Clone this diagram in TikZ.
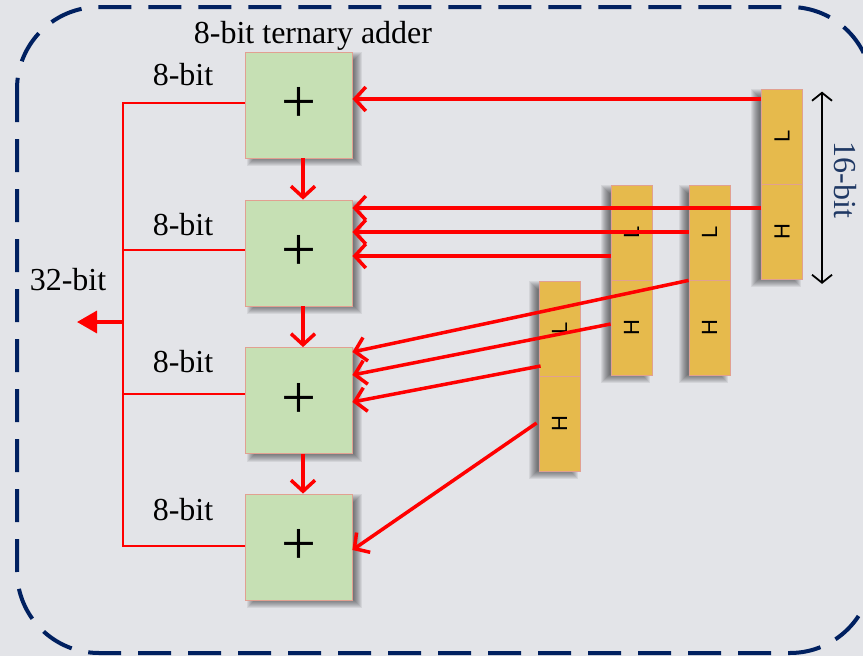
\documentclass[tikz,border=0pt]{standalone}
\usepackage{fontspec}
\setmainfont{Liberation Serif}
\newfontfamily\lhfont{Liberation Sans}
\usetikzlibrary{arrows.meta}

\definecolor{bgray}{RGB}{227,228,232}
\definecolor{navy}{RGB}{0,32,96}
\definecolor{addgreen}{RGB}{198,224,180}
\definecolor{bitgold}{RGB}{230,186,76}
\definecolor{edgepink}{RGB}{225,160,145}
\definecolor{labelblue}{RGB}{31,56,100}

\pgfdeclarelayer{back}
\pgfdeclarelayer{under}
\pgfsetlayers{back,under,main}

% soft drop shadow behind the box spanned by #1.north west and #2.south east,
% offset by (#3,#4) with y growing downwards
\newcommand{\softshade}[4]{%
  \foreach \r in {0,1,...,8}{%
    \pgfmathsetmacro\shlx{#3+4-\r}%
    \pgfmathsetmacro\shly{#4+4-\r}%
    \pgfmathsetmacro\shrx{#3-4+\r}%
    \pgfmathsetmacro\shry{#4-4+\r}%
    \fill[black,opacity=0.065]
      ([shift={(\shlx,\shly)}]#1.north west) rectangle
      ([shift={(\shrx,\shry)}]#2.south east);
  }%
}

\begin{document}
\begin{tikzpicture}[x=1pt,y=-1pt,
  adder/.style={draw=edgepink, line width=0.8pt, fill=addgreen,
    minimum width=107pt, minimum height=106pt, inner sep=0pt,
    font=\fontsize{62}{62}\selectfont},
  cell/.style={draw=edgepink, line width=0.8pt, fill=bitgold,
    minimum width=41pt, minimum height=95pt, inner sep=0pt,
    font=\lhfont\fontsize{22}{22}\selectfont},
  lbl/.style={anchor=base, inner sep=0pt, font=\fontsize{32}{38}\selectfont},
  arr/.style={draw=red, line width=3.5pt,
    arrows={-Straight Barb[length=11pt,width=24pt]}},
  bus/.style={draw=red, line width=2pt},
  outarr/.style={draw=red, line width=3.5pt,
    arrows={-Triangle[length=20pt,width=22pt]}},
  dim/.style={draw=black, line width=1.8pt,
    arrows={Straight Barb[length=8pt,width=20pt]-Straight Barb[length=8pt,width=20pt]}}
]

% page and background
\useasboundingbox (0,0) rectangle (863,656);
\begin{pgfonlayer}{back}
  \fill[bgray] (0,0) rectangle (863,656);
\end{pgfonlayer}

% dashed enclosure
\draw[navy, line width=4pt, dash pattern=on 33pt off 17pt, rounded corners=82pt]
  (17,7) rectangle (872,653);

% the four 8-bit adders
\node[adder] (a1) at (298.5,105)   {+};
\node[adder] (a2) at (298.5,253)   {+};
\node[adder] (a3) at (298.5,400.5) {+};
\node[adder] (a4) at (298.5,547)   {+};

% 16-bit operands, each split into a low and a high byte
\node[cell] (AL) at (782,136.5)   {\rotatebox{90}{L}};
\node[cell] (AH) at (782,231.5)   {\rotatebox{90}{H}};
\node[cell] (CL) at (709.5,232.5) {\rotatebox{90}{L}};
\node[cell] (CH) at (709.5,327.5) {\rotatebox{90}{H}};
\node[cell] (BL) at (631.5,232.5) {\rotatebox{90}{L}};
\node[cell] (BH) at (631.5,327.5) {\rotatebox{90}{H}};
\node[cell] (DL) at (559.5,328.5) {\rotatebox{90}{L}};
\node[cell] (DH) at (559.5,423.5) {\rotatebox{90}{H}};

% shadows
\begin{pgfonlayer}{under}
  \softshade{a1}{a1}{6}{4}
  \softshade{a2}{a2}{6}{4}
  \softshade{a3}{a3}{6}{4}
  \softshade{a4}{a4}{6}{4}
  \softshade{AL}{AH}{-6}{4}
  \softshade{CL}{CH}{-6}{4}
  \softshade{BL}{BH}{-6}{4}
  \softshade{DL}{DH}{-6}{4}
\end{pgfonlayer}

% labels
\node[lbl] (title) at (313,43)  {8-bit ternary adder};
\node[lbl] (w1)    at (183,85)  {8-bit};
\node[lbl] (w2)    at (183,235) {8-bit};
\node[lbl] (w3)    at (183,372) {8-bit};
\node[lbl] (w4)    at (183,520) {8-bit};
\node[lbl] (w32)   at (68,290)  {32-bit};
\node[inner sep=0pt, rotate=-90, text=labelblue,
      font=\fontsize{32}{38}\selectfont] (w16) at (845,180) {16-bit};

% operand bytes into the adders
\draw[arr] ([yshift=37.5pt]AL.west) -- ([yshift=6pt]a1.east);
\draw[arr] ([yshift=23.5pt]AH.west) -- ([yshift=45pt]a2.east);
\draw[arr] ([yshift=0.5pt]CL.west) -- ([yshift=21pt]a2.east);
\draw[arr] ([yshift=-23.5pt]BL.west) -- ([yshift=-3pt]a2.east);
\draw[arr] (CL.south west) -- ([yshift=48.5pt]a3.east);
\draw[arr] ([yshift=3.5pt]BH.west) -- ([yshift=25.5pt]a3.east);
\draw[arr] ([xshift=2pt,yshift=-37.5pt]DL.west) -- ([yshift=-1.5pt]a3.east);
\draw[arr] ([xshift=-2pt,yshift=0.5pt]DH.west) -- ([yshift=-3pt]a4.east);

% carries between adders
\draw[arr] ([xshift=4.5pt]a1.south) -- ([xshift=4.5pt]a2.north);
\draw[arr] ([xshift=4.5pt]a2.south) -- ([xshift=4.5pt]a3.north);
\draw[arr] ([xshift=4.5pt]a3.south) -- ([xshift=4.5pt]a4.north);

% result bus
\coordinate (bus) at (123,322);
\coordinate (out) at (77,322);
\coordinate (j1) at ([yshift=2pt]a1.west);
\coordinate (j2) at ([yshift=3pt]a2.west);
\coordinate (j3) at ([yshift=6.5pt]a3.west);
\coordinate (j4) at ([yshift=1pt]a4.west);
\draw[bus] (j1) -| (bus) |- (j4);
\draw[bus] (j2) -- (j2 -| bus);
\draw[bus] (j3) -- (j3 -| bus);
\draw[outarr] (bus) -- (out);

% operand width marker
\draw[dim] ([xshift=40pt,yshift=-3pt]AL.north) -- ([xshift=40pt,yshift=-4.5pt]AH.south);

\end{tikzpicture}
\end{document}
